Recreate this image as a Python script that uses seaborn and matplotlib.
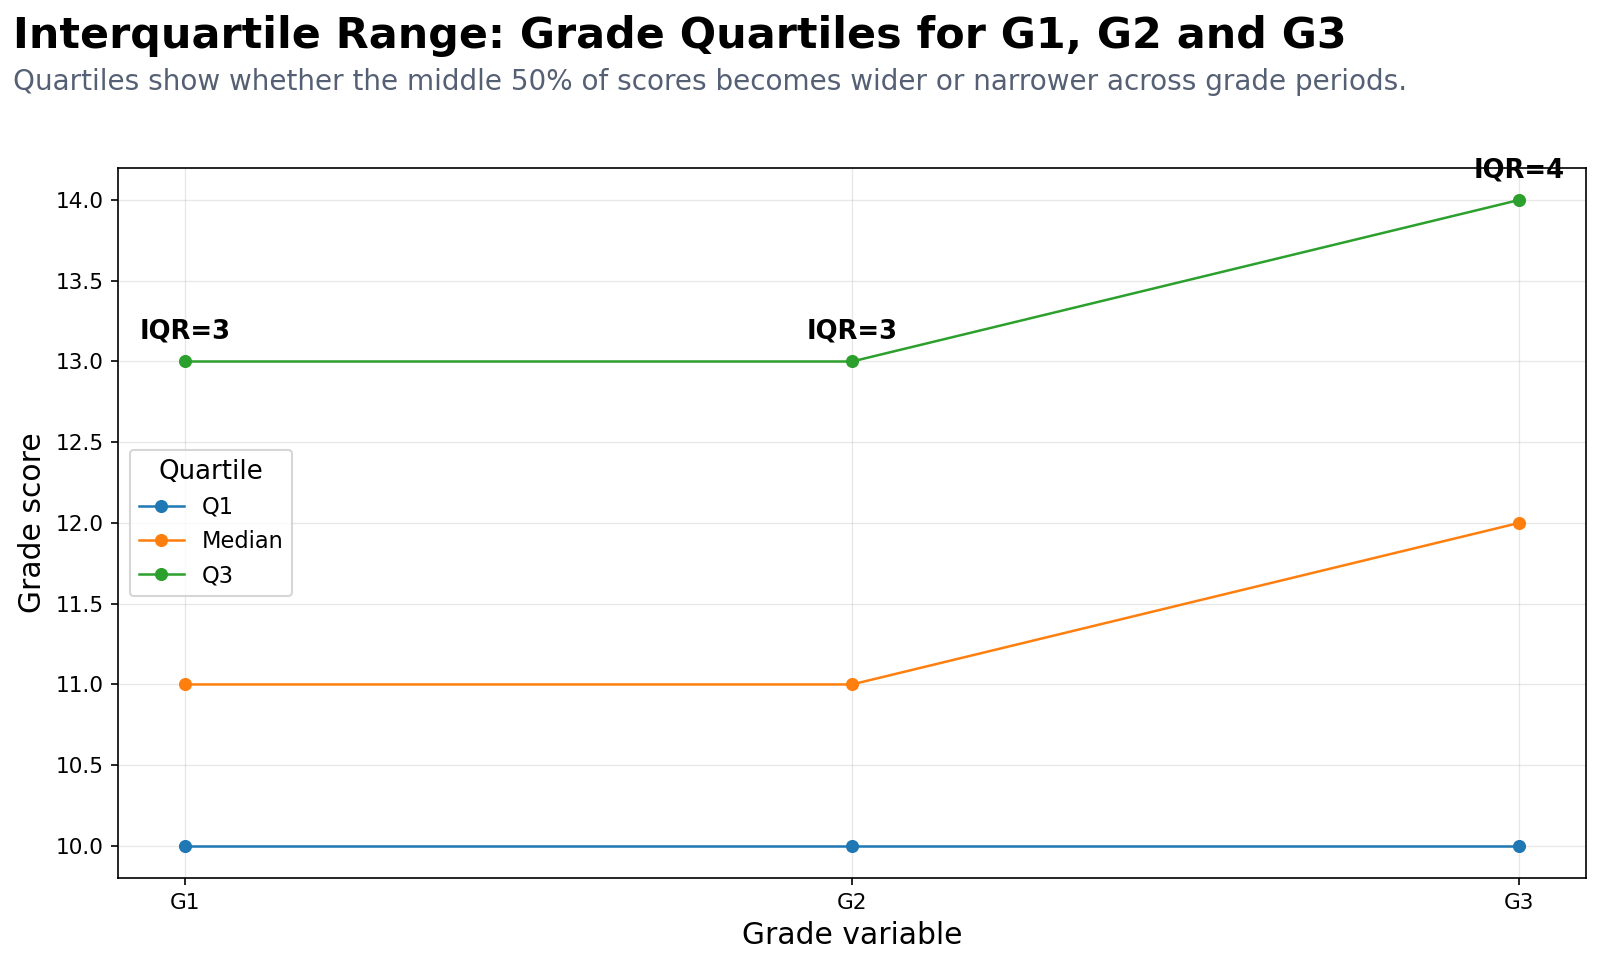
import pandas as pd
import matplotlib
matplotlib.use("Agg")
import matplotlib.pyplot as plt
import seaborn as sns

# data
GRADES   = ["G1", "G2", "G3"]
Q1       = [10, 10, 10]
MEDIAN   = [11, 11, 12]
Q3       = [13, 13, 14]
QUARTILE_ORDER = ["Q1", "Median", "Q3"]

df = pd.DataFrame({"Grade": GRADES, "Q1": Q1, "Median": MEDIAN, "Q3": Q3})
long = df.melt(id_vars="Grade", var_name="Quartile", value_name="Score")

palette = dict(zip(QUARTILE_ORDER, sns.color_palette("tab10", 3)))

DPI = 150
fig = plt.figure(figsize=(1600 / DPI, 964 / DPI), dpi=DPI)
ax = fig.add_axes([0.074, 0.089, 0.917, 0.737])
sns.lineplot(data=long, x="Grade", y="Score", hue="Quartile", hue_order=QUARTILE_ORDER,
             palette=palette, marker="o", markersize=6.3, markeredgewidth=0,
             linewidth=1.2, ax=ax)

# IQR labels above the Q3 points
for g, lo, hi in zip(GRADES, Q1, Q3):
    ax.annotate(f"IQR={hi - lo}", xy=(g, hi), xytext=(0, 8), textcoords="offset points",
                ha="center", va="bottom", fontsize=12.4, fontweight="bold")

ax.grid(True, alpha=0.3, linewidth=0.6)
ax.tick_params(labelsize=10.4)
ax.set_xlabel("Grade variable", fontsize=14.3)
ax.set_ylabel("Grade score", fontsize=14.3)
ax.legend(title="Quartile", loc="center left", fontsize=10.8, title_fontsize=12.5)

fig.text(0.008, 0.950, "Interquartile Range: Grade Quartiles for G1, G2 and G3",
         fontsize=20.6, fontweight="bold", va="baseline", ha="left")
fig.text(0.008, 0.907, "Quartiles show whether the middle 50% of scores becomes wider or narrower across grade periods.",
         fontsize=13.4, color="#556074", va="baseline", ha="left")

fig.savefig("out.png", dpi=DPI)
plt.close(fig)
